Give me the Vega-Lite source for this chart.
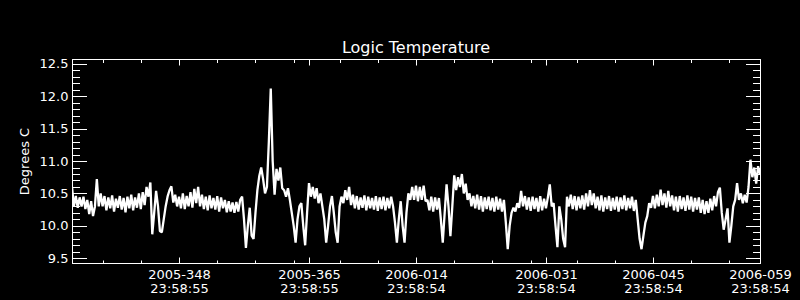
{
"$schema":"https://vega.github.io/schema/vega-lite/v6.json",
"width":688,"height":204,
"autosize":"none",
"padding":{"left":72,"top":59,"right":40,"bottom":37},
"background":"black",
"title":{"text":"Logic Temperature","color":"white","font":"DejaVu Sans","fontSize":16,"fontWeight":"normal","anchor":"middle","frame":"group","baseline":"alphabetic","offset":-11},
"config":{"view":{"stroke":null},"axis":{"domainColor":"white","domainWidth":1,"tickColor":"white","tickWidth":1,"labelColor":"white","titleColor":"white","grid":false,"labelFont":"DejaVu Sans","labelFontSize":13,"titleFont":"DejaVu Sans","titleFontSize":13,"titleFontWeight":"normal","labelFlush":false,"labelOverlap":false,"labelBound":false}},
"data":{"values":[
{"t":"2005-12-01T00:00Z","v":10.60},{"t":"2005-12-01T06:00Z","v":10.30},{"t":"2005-12-01T12:00Z","v":10.46},{"t":"2005-12-01T18:00Z","v":10.28},
{"t":"2005-12-02T00:00Z","v":10.44},{"t":"2005-12-02T06:00Z","v":10.30},{"t":"2005-12-02T12:00Z","v":10.45},{"t":"2005-12-02T18:00Z","v":10.26},
{"t":"2005-12-03T00:00Z","v":10.40},{"t":"2005-12-03T06:00Z","v":10.18},{"t":"2005-12-03T12:00Z","v":10.38},{"t":"2005-12-03T18:00Z","v":10.15},
{"t":"2005-12-04T00:00Z","v":10.30},{"t":"2005-12-04T06:00Z","v":10.72},{"t":"2005-12-04T12:00Z","v":10.30},{"t":"2005-12-04T18:00Z","v":10.50},
{"t":"2005-12-05T00:00Z","v":10.30},{"t":"2005-12-05T06:00Z","v":10.46},{"t":"2005-12-05T12:00Z","v":10.24},{"t":"2005-12-05T18:00Z","v":10.44},
{"t":"2005-12-06T00:00Z","v":10.27},{"t":"2005-12-06T06:00Z","v":10.47},{"t":"2005-12-06T12:00Z","v":10.22},{"t":"2005-12-06T18:00Z","v":10.42},
{"t":"2005-12-07T00:00Z","v":10.28},{"t":"2005-12-07T06:00Z","v":10.46},{"t":"2005-12-07T12:00Z","v":10.25},{"t":"2005-12-07T18:00Z","v":10.43},
{"t":"2005-12-08T00:00Z","v":10.21},{"t":"2005-12-08T06:00Z","v":10.45},{"t":"2005-12-08T12:00Z","v":10.27},{"t":"2005-12-08T18:00Z","v":10.48},
{"t":"2005-12-09T00:00Z","v":10.24},{"t":"2005-12-09T06:00Z","v":10.44},{"t":"2005-12-09T12:00Z","v":10.28},{"t":"2005-12-09T18:00Z","v":10.50},
{"t":"2005-12-10T00:00Z","v":10.26},{"t":"2005-12-10T06:00Z","v":10.52},{"t":"2005-12-10T12:00Z","v":10.32},{"t":"2005-12-10T18:00Z","v":10.60},
{"t":"2005-12-11T00:00Z","v":10.45},{"t":"2005-12-11T06:00Z","v":10.67},{"t":"2005-12-11T12:00Z","v":9.87},{"t":"2005-12-11T18:00Z","v":10.20},
{"t":"2005-12-12T00:00Z","v":10.54},{"t":"2005-12-12T06:00Z","v":10.30},{"t":"2005-12-12T12:00Z","v":9.92},{"t":"2005-12-12T18:00Z","v":9.90},
{"t":"2005-12-13T00:00Z","v":10.10},{"t":"2005-12-13T06:00Z","v":10.30},{"t":"2005-12-13T12:00Z","v":10.45},{"t":"2005-12-13T18:00Z","v":10.55},
{"t":"2005-12-14T00:00Z","v":10.61},{"t":"2005-12-14T06:00Z","v":10.36},{"t":"2005-12-14T12:00Z","v":10.48},{"t":"2005-12-14T18:00Z","v":10.30},
{"t":"2005-12-15T00:00Z","v":10.45},{"t":"2005-12-15T06:00Z","v":10.27},{"t":"2005-12-15T12:00Z","v":10.50},{"t":"2005-12-15T18:00Z","v":10.26},
{"t":"2005-12-16T00:00Z","v":10.46},{"t":"2005-12-16T06:00Z","v":10.30},{"t":"2005-12-16T12:00Z","v":10.52},{"t":"2005-12-16T18:00Z","v":10.28},
{"t":"2005-12-17T00:00Z","v":10.57},{"t":"2005-12-17T06:00Z","v":10.35},{"t":"2005-12-17T12:00Z","v":10.60},{"t":"2005-12-17T18:00Z","v":10.30},
{"t":"2005-12-18T00:00Z","v":10.48},{"t":"2005-12-18T06:00Z","v":10.26},{"t":"2005-12-18T12:00Z","v":10.45},{"t":"2005-12-18T18:00Z","v":10.24},
{"t":"2005-12-19T00:00Z","v":10.47},{"t":"2005-12-19T06:00Z","v":10.27},{"t":"2005-12-19T12:00Z","v":10.43},{"t":"2005-12-19T18:00Z","v":10.25},
{"t":"2005-12-20T00:00Z","v":10.46},{"t":"2005-12-20T06:00Z","v":10.22},{"t":"2005-12-20T12:00Z","v":10.44},{"t":"2005-12-20T18:00Z","v":10.27},
{"t":"2005-12-21T00:00Z","v":10.40},{"t":"2005-12-21T06:00Z","v":10.21},{"t":"2005-12-21T12:00Z","v":10.38},{"t":"2005-12-21T18:00Z","v":10.22},
{"t":"2005-12-22T00:00Z","v":10.36},{"t":"2005-12-22T06:00Z","v":10.20},{"t":"2005-12-22T12:00Z","v":10.37},{"t":"2005-12-22T18:00Z","v":10.22},
{"t":"2005-12-23T00:00Z","v":10.40},{"t":"2005-12-23T06:00Z","v":10.45},{"t":"2005-12-23T12:00Z","v":10.10},{"t":"2005-12-23T18:00Z","v":9.66},
{"t":"2005-12-24T00:00Z","v":10.00},{"t":"2005-12-24T06:00Z","v":10.28},{"t":"2005-12-24T12:00Z","v":9.85},{"t":"2005-12-24T18:00Z","v":9.80},
{"t":"2005-12-25T00:00Z","v":10.20},{"t":"2005-12-25T06:00Z","v":10.55},{"t":"2005-12-25T12:00Z","v":10.77},{"t":"2005-12-25T18:00Z","v":10.90},
{"t":"2005-12-26T00:00Z","v":10.72},{"t":"2005-12-26T06:00Z","v":10.50},{"t":"2005-12-26T12:00Z","v":10.60},{"t":"2005-12-26T18:00Z","v":11.30},
{"t":"2005-12-27T00:00Z","v":12.12},{"t":"2005-12-27T06:00Z","v":11.00},{"t":"2005-12-27T12:00Z","v":10.48},{"t":"2005-12-27T18:00Z","v":10.88},
{"t":"2005-12-28T00:00Z","v":10.70},{"t":"2005-12-28T06:00Z","v":10.90},{"t":"2005-12-28T12:00Z","v":10.58},{"t":"2005-12-28T18:00Z","v":10.55},
{"t":"2005-12-29T00:00Z","v":10.45},{"t":"2005-12-29T06:00Z","v":10.58},{"t":"2005-12-29T12:00Z","v":10.40},{"t":"2005-12-29T18:00Z","v":10.20},
{"t":"2005-12-30T00:00Z","v":10.00},{"t":"2005-12-30T06:00Z","v":9.74},{"t":"2005-12-30T12:00Z","v":10.10},{"t":"2005-12-30T18:00Z","v":10.30},
{"t":"2005-12-31T00:00Z","v":10.35},{"t":"2005-12-31T06:00Z","v":10.00},{"t":"2005-12-31T12:00Z","v":9.70},{"t":"2005-12-31T18:00Z","v":10.20},
{"t":"2006-01-01T00:00Z","v":10.66},{"t":"2006-01-01T06:00Z","v":10.45},{"t":"2006-01-01T12:00Z","v":10.60},{"t":"2006-01-01T18:00Z","v":10.42},
{"t":"2006-01-02T00:00Z","v":10.58},{"t":"2006-01-02T06:00Z","v":10.35},{"t":"2006-01-02T12:00Z","v":10.50},{"t":"2006-01-02T18:00Z","v":10.30},
{"t":"2006-01-03T00:00Z","v":10.10},{"t":"2006-01-03T06:00Z","v":9.74},{"t":"2006-01-03T12:00Z","v":10.00},{"t":"2006-01-03T18:00Z","v":10.30},
{"t":"2006-01-04T00:00Z","v":10.46},{"t":"2006-01-04T06:00Z","v":10.20},{"t":"2006-01-04T12:00Z","v":9.90},{"t":"2006-01-04T18:00Z","v":9.74},
{"t":"2006-01-05T00:00Z","v":10.30},{"t":"2006-01-05T06:00Z","v":10.45},{"t":"2006-01-05T12:00Z","v":10.35},{"t":"2006-01-05T18:00Z","v":10.55},
{"t":"2006-01-06T00:00Z","v":10.40},{"t":"2006-01-06T06:00Z","v":10.60},{"t":"2006-01-06T12:00Z","v":10.32},{"t":"2006-01-06T18:00Z","v":10.48},
{"t":"2006-01-07T00:00Z","v":10.27},{"t":"2006-01-07T06:00Z","v":10.46},{"t":"2006-01-07T12:00Z","v":10.25},{"t":"2006-01-07T18:00Z","v":10.44},
{"t":"2006-01-08T00:00Z","v":10.28},{"t":"2006-01-08T06:00Z","v":10.47},{"t":"2006-01-08T12:00Z","v":10.24},{"t":"2006-01-08T18:00Z","v":10.45},
{"t":"2006-01-09T00:00Z","v":10.27},{"t":"2006-01-09T06:00Z","v":10.43},{"t":"2006-01-09T12:00Z","v":10.25},{"t":"2006-01-09T18:00Z","v":10.46},
{"t":"2006-01-10T00:00Z","v":10.23},{"t":"2006-01-10T06:00Z","v":10.44},{"t":"2006-01-10T12:00Z","v":10.26},{"t":"2006-01-10T18:00Z","v":10.45},
{"t":"2006-01-11T00:00Z","v":10.24},{"t":"2006-01-11T06:00Z","v":10.43},{"t":"2006-01-11T12:00Z","v":10.27},{"t":"2006-01-11T18:00Z","v":10.45},
{"t":"2006-01-12T00:00Z","v":10.30},{"t":"2006-01-12T06:00Z","v":10.05},{"t":"2006-01-12T12:00Z","v":9.74},{"t":"2006-01-12T18:00Z","v":10.10},
{"t":"2006-01-13T00:00Z","v":10.38},{"t":"2006-01-13T06:00Z","v":10.00},{"t":"2006-01-13T12:00Z","v":9.74},{"t":"2006-01-13T18:00Z","v":10.20},
{"t":"2006-01-14T00:00Z","v":10.50},{"t":"2006-01-14T06:00Z","v":10.40},{"t":"2006-01-14T12:00Z","v":10.60},{"t":"2006-01-14T18:00Z","v":10.40},
{"t":"2006-01-15T00:00Z","v":10.62},{"t":"2006-01-15T06:00Z","v":10.38},{"t":"2006-01-15T12:00Z","v":10.60},{"t":"2006-01-15T18:00Z","v":10.40},
{"t":"2006-01-16T00:00Z","v":10.62},{"t":"2006-01-16T06:00Z","v":10.38},{"t":"2006-01-16T12:00Z","v":10.40},{"t":"2006-01-16T18:00Z","v":10.24},
{"t":"2006-01-17T00:00Z","v":10.45},{"t":"2006-01-17T06:00Z","v":10.22},{"t":"2006-01-17T12:00Z","v":10.44},{"t":"2006-01-17T18:00Z","v":10.25},
{"t":"2006-01-18T00:00Z","v":10.43},{"t":"2006-01-18T06:00Z","v":10.10},{"t":"2006-01-18T12:00Z","v":9.74},{"t":"2006-01-18T18:00Z","v":10.20},
{"t":"2006-01-19T00:00Z","v":10.64},{"t":"2006-01-19T06:00Z","v":10.30},{"t":"2006-01-19T12:00Z","v":9.84},{"t":"2006-01-19T18:00Z","v":10.30},
{"t":"2006-01-20T00:00Z","v":10.78},{"t":"2006-01-20T06:00Z","v":10.55},{"t":"2006-01-20T12:00Z","v":10.75},{"t":"2006-01-20T18:00Z","v":10.60},
{"t":"2006-01-21T00:00Z","v":10.80},{"t":"2006-01-21T06:00Z","v":10.50},{"t":"2006-01-21T12:00Z","v":10.65},{"t":"2006-01-21T18:00Z","v":10.40},
{"t":"2006-01-22T00:00Z","v":10.50},{"t":"2006-01-22T06:00Z","v":10.30},{"t":"2006-01-22T12:00Z","v":10.46},{"t":"2006-01-22T18:00Z","v":10.27},
{"t":"2006-01-23T00:00Z","v":10.48},{"t":"2006-01-23T06:00Z","v":10.25},{"t":"2006-01-23T12:00Z","v":10.46},{"t":"2006-01-23T18:00Z","v":10.22},
{"t":"2006-01-24T00:00Z","v":10.44},{"t":"2006-01-24T06:00Z","v":10.26},{"t":"2006-01-24T12:00Z","v":10.45},{"t":"2006-01-24T18:00Z","v":10.24},
{"t":"2006-01-25T00:00Z","v":10.43},{"t":"2006-01-25T06:00Z","v":10.22},{"t":"2006-01-25T12:00Z","v":10.45},{"t":"2006-01-25T18:00Z","v":10.25},
{"t":"2006-01-26T00:00Z","v":10.42},{"t":"2006-01-26T06:00Z","v":10.22},{"t":"2006-01-26T12:00Z","v":10.40},{"t":"2006-01-26T18:00Z","v":10.05},
{"t":"2006-01-27T00:00Z","v":9.64},{"t":"2006-01-27T06:00Z","v":10.00},{"t":"2006-01-27T12:00Z","v":10.20},{"t":"2006-01-27T18:00Z","v":10.28},
{"t":"2006-01-28T00:00Z","v":10.22},{"t":"2006-01-28T06:00Z","v":10.35},{"t":"2006-01-28T12:00Z","v":10.28},{"t":"2006-01-28T18:00Z","v":10.54},
{"t":"2006-01-29T00:00Z","v":10.30},{"t":"2006-01-29T06:00Z","v":10.46},{"t":"2006-01-29T12:00Z","v":10.25},{"t":"2006-01-29T18:00Z","v":10.44},
{"t":"2006-01-30T00:00Z","v":10.23},{"t":"2006-01-30T06:00Z","v":10.45},{"t":"2006-01-30T12:00Z","v":10.26},{"t":"2006-01-30T18:00Z","v":10.43},
{"t":"2006-01-31T00:00Z","v":10.22},{"t":"2006-01-31T06:00Z","v":10.46},{"t":"2006-01-31T12:00Z","v":10.24},{"t":"2006-01-31T18:00Z","v":10.42},
{"t":"2006-02-01T00:00Z","v":10.27},{"t":"2006-02-01T06:00Z","v":10.44},{"t":"2006-02-01T12:00Z","v":10.64},{"t":"2006-02-01T18:00Z","v":10.30},
{"t":"2006-02-02T00:00Z","v":10.35},{"t":"2006-02-02T06:00Z","v":10.00},{"t":"2006-02-02T12:00Z","v":9.67},{"t":"2006-02-02T18:00Z","v":10.30},
{"t":"2006-02-03T00:00Z","v":10.10},{"t":"2006-02-03T06:00Z","v":9.80},{"t":"2006-02-03T12:00Z","v":9.67},{"t":"2006-02-03T18:00Z","v":10.45},
{"t":"2006-02-04T00:00Z","v":10.30},{"t":"2006-02-04T06:00Z","v":10.48},{"t":"2006-02-04T12:00Z","v":10.26},{"t":"2006-02-04T18:00Z","v":10.46},
{"t":"2006-02-05T00:00Z","v":10.24},{"t":"2006-02-05T06:00Z","v":10.45},{"t":"2006-02-05T12:00Z","v":10.27},{"t":"2006-02-05T18:00Z","v":10.47},
{"t":"2006-02-06T00:00Z","v":10.25},{"t":"2006-02-06T06:00Z","v":10.50},{"t":"2006-02-06T12:00Z","v":10.30},{"t":"2006-02-06T18:00Z","v":10.55},
{"t":"2006-02-07T00:00Z","v":10.32},{"t":"2006-02-07T06:00Z","v":10.50},{"t":"2006-02-07T12:00Z","v":10.27},{"t":"2006-02-07T18:00Z","v":10.45},
{"t":"2006-02-08T00:00Z","v":10.24},{"t":"2006-02-08T06:00Z","v":10.47},{"t":"2006-02-08T12:00Z","v":10.22},{"t":"2006-02-08T18:00Z","v":10.44},
{"t":"2006-02-09T00:00Z","v":10.26},{"t":"2006-02-09T06:00Z","v":10.46},{"t":"2006-02-09T12:00Z","v":10.23},{"t":"2006-02-09T18:00Z","v":10.43},
{"t":"2006-02-10T00:00Z","v":10.25},{"t":"2006-02-10T06:00Z","v":10.45},{"t":"2006-02-10T12:00Z","v":10.22},{"t":"2006-02-10T18:00Z","v":10.44},
{"t":"2006-02-11T00:00Z","v":10.26},{"t":"2006-02-11T06:00Z","v":10.47},{"t":"2006-02-11T12:00Z","v":10.24},{"t":"2006-02-11T18:00Z","v":10.43},
{"t":"2006-02-12T00:00Z","v":10.27},{"t":"2006-02-12T06:00Z","v":10.45},{"t":"2006-02-12T12:00Z","v":10.23},{"t":"2006-02-12T18:00Z","v":10.40},
{"t":"2006-02-13T00:00Z","v":10.10},{"t":"2006-02-13T06:00Z","v":9.80},{"t":"2006-02-13T12:00Z","v":9.64},{"t":"2006-02-13T18:00Z","v":9.85},
{"t":"2006-02-14T00:00Z","v":10.05},{"t":"2006-02-14T06:00Z","v":10.15},{"t":"2006-02-14T12:00Z","v":10.35},{"t":"2006-02-14T18:00Z","v":10.28},
{"t":"2006-02-15T00:00Z","v":10.46},{"t":"2006-02-15T06:00Z","v":10.27},{"t":"2006-02-15T12:00Z","v":10.48},{"t":"2006-02-15T18:00Z","v":10.30},
{"t":"2006-02-16T00:00Z","v":10.56},{"t":"2006-02-16T06:00Z","v":10.32},{"t":"2006-02-16T12:00Z","v":10.50},{"t":"2006-02-16T18:00Z","v":10.28},
{"t":"2006-02-17T00:00Z","v":10.54},{"t":"2006-02-17T06:00Z","v":10.30},{"t":"2006-02-17T12:00Z","v":10.47},{"t":"2006-02-17T18:00Z","v":10.24},
{"t":"2006-02-18T00:00Z","v":10.45},{"t":"2006-02-18T06:00Z","v":10.22},{"t":"2006-02-18T12:00Z","v":10.46},{"t":"2006-02-18T18:00Z","v":10.26},
{"t":"2006-02-19T00:00Z","v":10.44},{"t":"2006-02-19T06:00Z","v":10.23},{"t":"2006-02-19T12:00Z","v":10.47},{"t":"2006-02-19T18:00Z","v":10.25},
{"t":"2006-02-20T00:00Z","v":10.45},{"t":"2006-02-20T06:00Z","v":10.22},{"t":"2006-02-20T12:00Z","v":10.43},{"t":"2006-02-20T18:00Z","v":10.25},
{"t":"2006-02-21T00:00Z","v":10.44},{"t":"2006-02-21T06:00Z","v":10.20},{"t":"2006-02-21T12:00Z","v":10.40},{"t":"2006-02-21T18:00Z","v":10.18},
{"t":"2006-02-22T00:00Z","v":10.38},{"t":"2006-02-22T06:00Z","v":10.20},{"t":"2006-02-22T12:00Z","v":10.42},{"t":"2006-02-22T18:00Z","v":10.24},
{"t":"2006-02-23T00:00Z","v":10.46},{"t":"2006-02-23T06:00Z","v":10.30},{"t":"2006-02-23T12:00Z","v":10.52},{"t":"2006-02-23T18:00Z","v":10.59},
{"t":"2006-02-24T00:00Z","v":10.20},{"t":"2006-02-24T06:00Z","v":9.94},{"t":"2006-02-24T12:00Z","v":10.10},{"t":"2006-02-24T18:00Z","v":10.27},
{"t":"2006-02-25T00:00Z","v":9.74},{"t":"2006-02-25T06:00Z","v":10.00},{"t":"2006-02-25T12:00Z","v":10.30},{"t":"2006-02-25T18:00Z","v":10.40},
{"t":"2006-02-26T00:00Z","v":10.66},{"t":"2006-02-26T06:00Z","v":10.40},{"t":"2006-02-26T12:00Z","v":10.50},{"t":"2006-02-26T18:00Z","v":10.35},
{"t":"2006-02-27T00:00Z","v":10.48},{"t":"2006-02-27T06:00Z","v":10.36},{"t":"2006-02-27T12:00Z","v":10.60},{"t":"2006-02-27T18:00Z","v":11.02},
{"t":"2006-02-28T00:00Z","v":10.75},{"t":"2006-02-28T06:00Z","v":10.90},{"t":"2006-02-28T12:00Z","v":10.65},{"t":"2006-02-28T18:00Z","v":10.92},
{"t":"2006-03-01T00:00Z","v":10.80}
]},
"layer":[
{"mark":{"type":"line","color":"white","strokeWidth":2.3,"strokeJoin":"bevel","clip":true},
 "encoding":{
  "x":{"field":"t","type":"temporal","scale":{"type":"utc","domain":[{"year":2005,"month":11,"date":30,"hours":23,"minutes":58,"seconds":55,"utc":true},{"year":2006,"month":2,"date":28,"hours":23,"minutes":58,"seconds":54,"utc":true}]},
   "axis":{"orient":"bottom","title":null,"ticks":false,"labelPadding":5,"labelLineHeight":14,"labelAngle":0,"labelAlign":"center",
    "labelExpr":"[utcFormat(datum.value, '%Y-%j'), utcFormat(datum.value, '%H:%M:%S')]",
    "values":[{"year":2005,"month":12,"date":14,"hours":23,"minutes":58,"seconds":55,"utc":true},{"year":2005,"month":12,"date":31,"hours":23,"minutes":58,"seconds":55,"utc":true},{"year":2006,"month":1,"date":14,"hours":23,"minutes":58,"seconds":54,"utc":true},{"year":2006,"month":1,"date":31,"hours":23,"minutes":58,"seconds":54,"utc":true},{"year":2006,"month":2,"date":14,"hours":23,"minutes":58,"seconds":54,"utc":true},{"year":2006,"month":2,"date":28,"hours":23,"minutes":58,"seconds":54,"utc":true}]}},
  "y":{"field":"v","type":"quantitative","scale":{"domain":[9.427,12.574],"nice":false,"zero":false},
   "axis":{"orient":"left","ticks":false,"values":[9.5,10,10.5,11,11.5,12,12.5],"format":".1f","labelPadding":4,"title":"Degrees C","titlePadding":8}}}},
{"mark":{"type":"line","opacity":0},
 "encoding":{
  "x":{"field":"t","type":"temporal","scale":{"type":"utc"},
   "axis":{"orient":"bottom","title":null,"labels":false,"tickSize":-6,
    "values":[{"year":2005,"month":12,"date":14,"hours":23,"minutes":58,"seconds":55,"utc":true},{"year":2005,"month":12,"date":31,"hours":23,"minutes":58,"seconds":55,"utc":true},{"year":2006,"month":1,"date":14,"hours":23,"minutes":58,"seconds":54,"utc":true},{"year":2006,"month":1,"date":31,"hours":23,"minutes":58,"seconds":54,"utc":true},{"year":2006,"month":2,"date":14,"hours":23,"minutes":58,"seconds":54,"utc":true},{"year":2006,"month":2,"date":28,"hours":23,"minutes":58,"seconds":54,"utc":true}]}},
  "y":{"field":"v","type":"quantitative",
   "axis":{"orient":"left","title":null,"labels":false,"tickSize":-14.5,"values":[9.5,10,10.5,11,11.5,12,12.5]}}}},
{"mark":{"type":"line","opacity":0},
 "encoding":{
  "x":{"field":"t","type":"temporal","scale":{"type":"utc"},
   "axis":{"orient":"bottom","title":null,"labels":false,"tickSize":-3,
    "values":[{"year":2005,"month":12,"date":4,"hours":23,"minutes":59,"utc":true},{"year":2005,"month":12,"date":9,"hours":23,"minutes":59,"utc":true},{"year":2005,"month":12,"date":19,"hours":23,"minutes":59,"utc":true},{"year":2005,"month":12,"date":24,"hours":23,"minutes":59,"utc":true},{"year":2005,"month":12,"date":29,"hours":23,"minutes":59,"utc":true},{"year":2006,"month":1,"date":4,"hours":23,"minutes":59,"utc":true},{"year":2006,"month":1,"date":9,"hours":23,"minutes":59,"utc":true},{"year":2006,"month":1,"date":19,"hours":23,"minutes":59,"utc":true},{"year":2006,"month":1,"date":24,"hours":23,"minutes":59,"utc":true},{"year":2006,"month":1,"date":29,"hours":23,"minutes":59,"utc":true},{"year":2006,"month":2,"date":4,"hours":23,"minutes":59,"utc":true},{"year":2006,"month":2,"date":9,"hours":23,"minutes":59,"utc":true},{"year":2006,"month":2,"date":19,"hours":23,"minutes":59,"utc":true},{"year":2006,"month":2,"date":24,"hours":23,"minutes":59,"utc":true}]}},
  "y":{"field":"v","type":"quantitative",
   "axis":{"orient":"left","title":null,"labels":false,"tickSize":-7.5,"values":[9.6,9.7,9.8,9.9,10.1,10.2,10.3,10.4,10.6,10.7,10.8,10.9,11.1,11.2,11.3,11.4,11.6,11.7,11.8,11.9,12.1,12.2,12.3,12.4]}}}},
{"mark":{"type":"line","opacity":0},
 "encoding":{
  "x":{"field":"t","type":"temporal","scale":{"type":"utc"},
   "axis":{"orient":"top","title":null,"labels":false,"tickSize":-6,
    "values":[{"year":2005,"month":12,"date":14,"hours":23,"minutes":58,"seconds":55,"utc":true},{"year":2005,"month":12,"date":31,"hours":23,"minutes":58,"seconds":55,"utc":true},{"year":2006,"month":1,"date":14,"hours":23,"minutes":58,"seconds":54,"utc":true},{"year":2006,"month":1,"date":31,"hours":23,"minutes":58,"seconds":54,"utc":true},{"year":2006,"month":2,"date":14,"hours":23,"minutes":58,"seconds":54,"utc":true},{"year":2006,"month":2,"date":28,"hours":23,"minutes":58,"seconds":54,"utc":true}]}},
  "y":{"field":"v","type":"quantitative",
   "axis":{"orient":"right","title":null,"labels":false,"tickSize":-14.5,"values":[9.5,10,10.5,11,11.5,12,12.5]}}}},
{"mark":{"type":"line","opacity":0},
 "encoding":{
  "x":{"field":"t","type":"temporal","scale":{"type":"utc"},
   "axis":{"orient":"top","title":null,"labels":false,"tickSize":-3.5,
    "values":[{"year":2005,"month":12,"date":4,"hours":23,"minutes":59,"utc":true},{"year":2005,"month":12,"date":9,"hours":23,"minutes":59,"utc":true},{"year":2005,"month":12,"date":19,"hours":23,"minutes":59,"utc":true},{"year":2005,"month":12,"date":24,"hours":23,"minutes":59,"utc":true},{"year":2005,"month":12,"date":29,"hours":23,"minutes":59,"utc":true},{"year":2006,"month":1,"date":4,"hours":23,"minutes":59,"utc":true},{"year":2006,"month":1,"date":9,"hours":23,"minutes":59,"utc":true},{"year":2006,"month":1,"date":19,"hours":23,"minutes":59,"utc":true},{"year":2006,"month":1,"date":24,"hours":23,"minutes":59,"utc":true},{"year":2006,"month":1,"date":29,"hours":23,"minutes":59,"utc":true},{"year":2006,"month":2,"date":4,"hours":23,"minutes":59,"utc":true},{"year":2006,"month":2,"date":9,"hours":23,"minutes":59,"utc":true},{"year":2006,"month":2,"date":19,"hours":23,"minutes":59,"utc":true},{"year":2006,"month":2,"date":24,"hours":23,"minutes":59,"utc":true}]}},
  "y":{"field":"v","type":"quantitative",
   "axis":{"orient":"right","title":null,"labels":false,"tickSize":-7.5,"values":[9.6,9.7,9.8,9.9,10.1,10.2,10.3,10.4,10.6,10.7,10.8,10.9,11.1,11.2,11.3,11.4,11.6,11.7,11.8,11.9,12.1,12.2,12.3,12.4]}}}}
],
"resolve":{"axis":{"x":"independent","y":"independent"}}
}
